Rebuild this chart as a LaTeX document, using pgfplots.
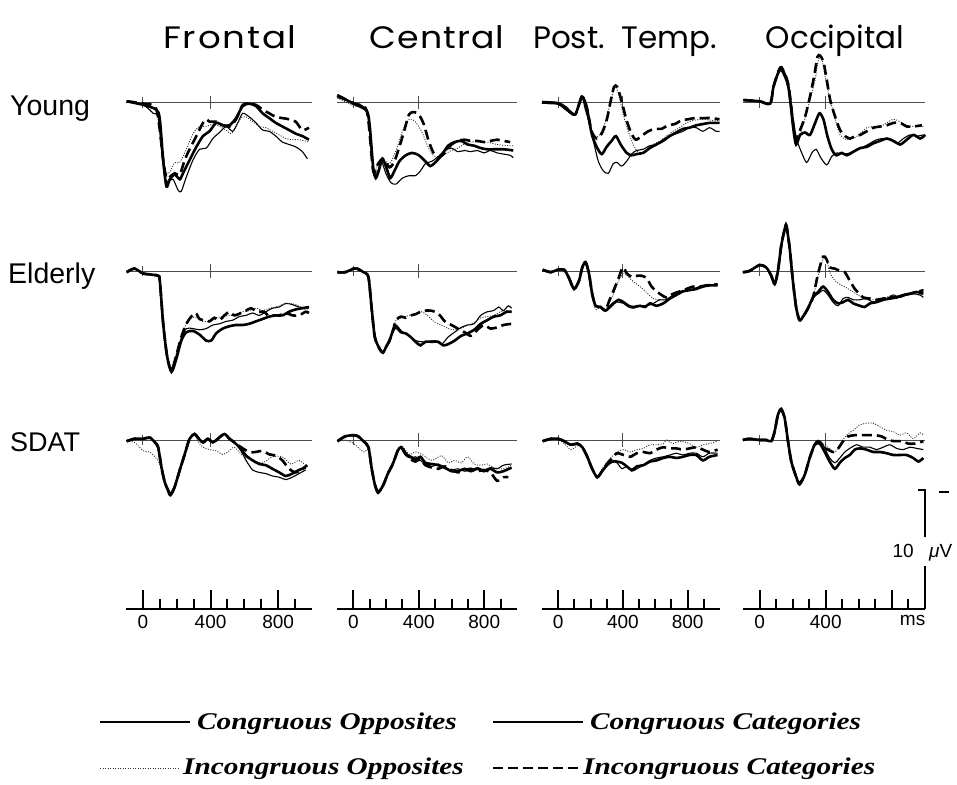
\documentclass[border=0pt]{standalone}
\usepackage{pgfplots}
\pgfplotsset{compat=1.18}
\usepackage{graphicx}
\usepackage{fontspec}
\setmainfont{Liberation Sans}
\newfontfamily\titlefont{Poppins}
\newfontfamily\titlefontA{Poppins}[LetterSpace=5]
\newfontfamily\titlefontB{Poppins}[LetterSpace=3]
\newfontfamily\legfont{Liberation Serif}

\pgfplotsset{
  panel/.style={scale only axis, hide axis, xmin=-100, xmax=1000, ymin=-5, ymax=9, y dir=reverse, height=168pt, clip=false, anchor=north west},
  base/.style={black!70, line width=0.9pt, no markers},
  co/.style={black, line width=1.1pt, no markers, smooth, tension=0.45},
  cc/.style={black, line width=2.6pt, no markers, smooth, tension=0.45},
  io/.style={black!80, line width=0.9pt, dash pattern=on 1pt off 1.5pt, no markers, smooth, tension=0.45},
  ic/.style={black, line width=2.6pt, dash pattern=on 10pt off 5pt, no markers, smooth, tension=0.45},
  taxis/.style={scale only axis, anchor=south west, xmin=-100, xmax=1000, ymin=0, ymax=1, height=10pt, clip=false,
    axis x line=bottom, axis y line=none, x axis line style={-, line width=2.2pt},
    tick align=inside, xtick={0,400,800}, minor xtick={100,200,300,500,600,700,900},
    major tick length=19pt, minor tick length=10pt, tick style={black, line width=2pt},
    xticklabel style={font=\fontsize{19}{19}\selectfont, yshift=-3pt},
    /pgf/number format/assume math mode=true, xticklabels={0,400,800}},
}
\newcommand\baseln{%
  \addplot[base] coordinates {(-100,0)(1000,0)};
  \addplot[base] coordinates {(0,-0.45)(0,0.45)};
  \addplot[base] coordinates {(400,-0.55)(400,0.55)};}
\newcommand\legtext[1]{\scalebox{1.22}[1]{\legfont\bfseries\itshape\fontsize{24}{24}\selectfont #1}}

\begin{document}
\begin{tikzpicture}[x=1pt,y=1pt]
\useasboundingbox (0,0) rectangle (957,784);

% column titles
\node[anchor=base] at (230,735) {\scalebox{1.15}[1]{\titlefontA\fontsize{31}{31}\selectfont Frontal}};
\node[anchor=base] at (437,735) {\scalebox{1.12}[1]{\titlefontB\fontsize{31}{31}\selectfont Central}};
\node[anchor=base, font=\titlefont\fontsize{31}{31}\selectfont] at (625,735) {Post.\ \ Temp.};
\node[anchor=base, font=\titlefont\fontsize{31}{31}\selectfont] at (835,735) {Occipital};
% row labels
\node[anchor=base west, inner sep=0, font=\fontsize{28.5}{28.5}\selectfont] at (10,668) {Young};
\node[anchor=base west, inner sep=0, font=\fontsize{28.5}{28.5}\selectfont] at (8,500) {Elderly};
\node[anchor=base west, inner sep=0, font=\fontsize{27}{27}\selectfont] at (10,332) {SDAT};

%================ YOUNG ================
\begin{axis}[panel, width=186pt, at={(126pt,741.5pt)}]
\baseln
\addplot[co] coordinates {(-96,-0.1)(2,0.2)(61,0.9)(90,1.2)(110,4.0)(129,6.2)(149,6.6)(178,6.4)(208,7.3)(227,7.4)(257,6.2)(296,4.8)(335,3.9)(375,3.8)(414,3.0)(453,2.5)(492,2.0)(531,2.4)(561,1.7)(590,0.9)(629,1.2)(669,1.7)(708,2.3)(747,2.4)(786,2.8)(825,3.3)(865,3.5)(904,3.7)(943,4.1)(973,4.7)};
\addplot[io] coordinates {(-96,-0.1)(2,0.2)(80,0.8)(120,4.8)(139,5.9)(159,5.8)(188,5.0)(218,5.0)(257,3.9)(296,2.6)(335,2.0)(375,2.0)(414,1.8)(453,2.0)(492,2.3)(522,2.6)(551,2.0)(580,1.3)(610,1.2)(649,1.6)(688,2.0)(727,2.1)(767,2.4)(806,2.7)(845,3.0)(884,3.1)(924,3.1)(982,3.3)};
\addplot[ic] coordinates {(-96,-0.1)(2,0.1)(80,0.6)(120,4.8)(139,6.3)(159,6.2)(188,5.9)(218,6.0)(247,4.8)(276,3.9)(316,2.8)(355,1.7)(375,1.4)(394,1.6)(433,1.6)(473,1.9)(512,2.0)(551,1.4)(590,0.2)(629,0.1)(669,0.2)(708,0.6)(747,0.9)(786,1.2)(825,1.3)(865,1.4)(904,1.6)(943,2.3)(982,2.1)};
\addplot[cc] coordinates {(-96,-0.1)(2,0.2)(80,0.6)(100,1.4)(120,4.8)(139,7.0)(159,6.4)(188,6.0)(218,6.4)(237,5.9)(276,4.8)(316,3.7)(355,2.8)(394,2.4)(433,1.7)(473,1.9)(512,1.9)(551,1.3)(590,0.3)(629,0.1)(669,0.3)(708,0.9)(747,1.3)(786,1.7)(825,2.0)(865,2.3)(904,2.6)(943,2.8)(982,3.1)};
\end{axis}

\begin{axis}[panel, width=180pt, at={(337pt,741.5pt)}]
\baseln
\addplot[co] coordinates {(-98,-0.4)(2,0)(82,0.7)(111,4.3)(131,6.0)(151,5.7)(171,4.9)(201,6.0)(231,6.7)(261,6.8)(300,6.3)(340,6.1)(380,6.1)(410,5.7)(440,5.1)(480,4.9)(519,4.5)(559,4.0)(599,3.8)(639,4.1)(679,4.0)(718,4.1)(758,4.0)(798,4.2)(838,4.0)(878,4.2)(918,4.3)(958,4.4)(977,4.6)};
\addplot[io] coordinates {(-98,-0.4)(2,0.3)(82,0.7)(121,5.7)(151,5.1)(181,4.7)(221,5.1)(261,4.0)(300,2.4)(330,1.5)(360,1.4)(390,1.8)(420,2.5)(450,3.5)(480,4.3)(519,4.6)(559,4.3)(599,4.0)(639,3.8)(698,3.3)(758,3.3)(818,3.3)(878,3.5)(938,3.6)(977,3.6)};
\addplot[ic] coordinates {(-98,-0.6)(2,0.1)(82,0.7)(121,5.7)(151,5.1)(181,4.7)(221,5.4)(251,4.9)(281,3.7)(310,2.4)(340,1.0)(370,0.8)(400,1.0)(430,1.8)(460,3.2)(490,4.2)(519,4.6)(559,4.2)(599,3.5)(639,3.2)(679,3.1)(718,3.2)(758,3.2)(798,3.3)(838,3.2)(878,3.1)(918,3.2)(958,3.3)};
\addplot[cc] coordinates {(-98,-0.6)(2,0.1)(82,0.7)(101,2.1)(121,5.4)(137,6.3)(157,5.6)(177,4.7)(201,5.4)(225,6.3)(251,5.7)(281,4.9)(320,4.4)(360,4.2)(400,4.4)(440,4.9)(470,5.3)(500,5.0)(539,4.4)(579,3.6)(619,3.3)(659,3.2)(698,3.5)(738,3.6)(778,3.8)(818,3.9)(858,3.9)(918,3.9)(977,4.0)};
\end{axis}

\begin{axis}[panel, width=178pt, at={(542pt,741.5pt)}]
\baseln
\addplot[co] coordinates {(-100,-0.1)(0,0)(53,0.4)(105,1.0)(146,-0.4)(166,0.5)(187,1.5)(217,3.2)(248,4.9)(279,5.7)(310,5.9)(340,5.1)(365,5.0)(392,5.3)(423,4.9)(453,4.3)(484,4.0)(525,3.9)(566,3.6)(607,3.5)(648,3.1)(689,2.8)(730,2.6)(771,2.4)(812,2.1)(853,2.1)(894,2.4)(935,2.1)(976,2.4)(997,2.4)};
\addplot[io] coordinates {(-100,-0.1)(0,0)(53,0.4)(105,1.0)(146,-0.4)(176,0.4)(207,2.4)(238,2.9)(269,2.4)(299,1.3)(330,-0.4)(351,-1.3)(371,-0.8)(402,1.0)(433,2.4)(464,3.5)(484,4.0)(515,4.2)(546,3.9)(587,3.5)(628,3.2)(669,2.8)(710,2.4)(751,2.1)(792,1.7)(833,1.5)(894,1.4)(956,1.5)(997,1.5)};
\addplot[ic] coordinates {(-100,0)(0,0.1)(53,0.5)(105,1.0)(146,-0.4)(176,0.4)(207,2.4)(238,3.0)(269,2.6)(299,1.5)(324,-0.1)(345,-1.3)(365,-1.3)(392,-0.1)(423,1.5)(453,2.6)(480,3.1)(515,2.8)(556,2.4)(597,2.2)(638,2.2)(679,1.9)(720,1.8)(761,1.5)(802,1.4)(843,1.3)(894,1.3)(946,1.3)(997,1.4)};
\addplot[cc] coordinates {(-100,0)(0,0.1)(53,0.6)(105,1.0)(146,-0.5)(176,0.4)(207,2.6)(238,3.7)(269,4.3)(299,3.7)(330,3.2)(357,2.8)(386,3.5)(423,4.2)(453,4.4)(484,4.3)(525,4.2)(566,3.8)(607,3.5)(648,3.2)(689,2.8)(730,2.5)(771,2.2)(812,2.1)(853,1.9)(894,1.8)(935,1.7)(997,1.7)};
\end{axis}

\begin{axis}[panel, width=182pt, at={(743pt,741.5pt)}]
\baseln
\addplot[co] coordinates {(-98,-0.2)(0,-0.1)(64,0.1)(84,-1.3)(114,-2.7)(134,-3.0)(174,-1.6)(205,1.5)(225,3.1)(255,4.2)(285,5.0)(316,4.2)(342,3.9)(370,4.6)(406,5.2)(436,4.5)(467,4.2)(507,4.3)(547,4.2)(588,3.9)(628,3.7)(668,3.4)(709,3.1)(749,3.0)(789,3.1)(830,3.4)(870,3.0)(910,2.7)(951,2.8)(991,2.7)};
\addplot[io] coordinates {(-98,-0.2)(0,-0.1)(64,0.1)(84,-1.3)(114,-2.6)(134,-2.9)(174,-1.5)(205,2.0)(221,3.1)(245,2.6)(275,1.3)(305,-0.2)(336,-1.9)(356,-3.6)(376,-3.7)(396,-2.2)(427,-0.2)(457,1.4)(487,2.7)(527,3.1)(568,3.0)(608,2.6)(648,2.1)(688,2.0)(729,2.0)(769,1.7)(809,1.4)(850,1.6)(890,1.9)(930,2.0)(991,2.0)};
\addplot[ic] coordinates {(-98,-0.2)(0,-0.1)(64,0.1)(84,-1.3)(114,-2.6)(134,-2.9)(174,-1.5)(205,2.0)(221,3.1)(245,2.3)(275,1.2)(305,-0.5)(330,-2.2)(350,-3.8)(366,-3.9)(386,-3.4)(406,-1.9)(427,-0.2)(457,1.2)(487,2.3)(517,2.8)(547,3.0)(578,2.8)(608,2.7)(648,2.4)(688,2.1)(729,2.0)(769,1.9)(809,1.7)(850,1.7)(890,2.0)(930,2.0)(981,1.9)};
\addplot[cc] coordinates {(-98,-0.2)(0,-0.1)(64,0.1)(84,-1.3)(114,-2.5)(134,-2.7)(174,-1.3)(205,2.3)(221,3.5)(245,2.7)(275,2.5)(305,2.7)(336,1.7)(362,0.9)(386,1.4)(410,2.8)(436,3.9)(463,4.4)(497,4.2)(527,4.4)(568,4.1)(608,3.8)(648,3.7)(688,3.4)(729,3.2)(769,3.0)(809,3.2)(850,3.5)(890,3.1)(930,2.7)(971,3.0)(1001,2.7)};
\end{axis}

%================ ELDERLY ================
\begin{axis}[panel, width=186pt, at={(126pt,573pt)}]
\baseln
\addplot[co] coordinates {(-96,0.1)(-50,-0.2)(0,0.2)(50,0.3)(90,0.4)(100,0.8)(120,4.4)(143,7.1)(169,8.1)(198,7.0)(227,5.6)(257,4.8)(296,4.8)(335,4.9)(374,4.8)(414,4.5)(453,4.4)(492,4.2)(531,4.1)(570,3.8)(610,3.7)(649,3.5)(688,3.7)(727,3.4)(766,3.1)(806,3.0)(845,2.7)(884,2.8)(923,3.0)(982,3.1)};
\addplot[io] coordinates {(-96,0.1)(-50,-0.2)(0,0.2)(50,0.3)(90,0.4)(100,0.8)(120,4.4)(143,7.1)(169,8.1)(198,6.9)(227,5.5)(257,4.4)(286,3.9)(316,3.9)(355,4.2)(394,4.2)(433,3.9)(472,3.8)(512,3.7)(551,3.7)(590,3.4)(629,3.3)(668,3.1)(708,3.3)(747,3.1)(786,3.0)(825,2.8)(864,2.7)(904,2.8)(943,3.1)(982,3.3)};
\addplot[ic] coordinates {(-96,0.1)(-50,-0.2)(0,0.2)(50,0.3)(90,0.4)(100,0.8)(120,4.4)(143,7.1)(169,8.3)(198,7.0)(227,5.5)(257,4.4)(286,3.8)(312,3.5)(335,4.0)(365,4.1)(394,4.2)(423,3.9)(453,4.1)(482,3.7)(512,3.4)(541,3.7)(580,3.5)(610,3.3)(639,3.1)(678,3.4)(717,3.4)(747,3.8)(776,3.7)(806,3.7)(845,3.5)(884,3.7)(923,3.7)(962,3.4)(982,3.5)};
\addplot[cc] coordinates {(-96,0.1)(-50,-0.2)(0,0.2)(50,0.3)(90,0.4)(100,0.8)(120,4.4)(143,7.1)(169,8.4)(198,7.3)(227,5.8)(257,5.1)(296,5.0)(335,5.3)(374,5.8)(404,5.8)(433,5.2)(472,4.8)(512,4.6)(551,4.5)(590,4.5)(629,4.4)(668,4.2)(708,4.0)(747,3.8)(786,3.7)(825,3.7)(864,3.4)(904,3.2)(943,3.1)(982,3.0)};
\end{axis}

\begin{axis}[panel, width=180pt, at={(337pt,573pt)}]
\baseln
\addplot[co] coordinates {(-97,0.1)(-50,0.1)(2,-0.2)(22,-0.2)(62,0.1)(92,0.5)(111,3.0)(131,5.5)(161,6.5)(181,6.8)(201,6.3)(221,5.8)(241,5.0)(261,4.5)(300,5.1)(340,5.4)(380,5.8)(420,5.9)(460,5.9)(499,5.8)(539,6.1)(579,5.5)(619,5.1)(659,4.7)(698,4.5)(738,4.4)(778,3.7)(818,3.4)(858,3.3)(888,3.0)(917,3.3)(947,2.9)(967,3.1)};
\addplot[io] coordinates {(-97,0.1)(-50,0.1)(2,-0.2)(22,-0.2)(62,0.1)(92,0.5)(111,3.0)(131,5.5)(161,6.5)(181,6.8)(201,6.3)(221,5.8)(241,5.0)(261,4.1)(300,3.9)(340,3.7)(380,3.6)(420,3.4)(460,3.8)(499,4.3)(539,4.5)(579,4.8)(619,4.9)(659,4.8)(698,4.5)(738,4.3)(778,3.9)(818,3.8)(858,3.7)(897,3.4)(937,3.3)(967,3.4)};
\addplot[ic] coordinates {(-97,0.1)(-50,0.1)(2,-0.2)(22,-0.2)(62,0.1)(92,0.5)(111,3.0)(131,5.5)(161,6.5)(181,6.8)(201,6.3)(221,5.8)(241,5.0)(261,4.1)(291,3.8)(320,3.9)(350,3.7)(380,3.6)(410,3.4)(440,3.3)(470,3.3)(499,3.4)(529,3.7)(559,4.2)(599,4.5)(639,4.8)(679,5.1)(718,5.4)(758,4.9)(798,4.5)(838,4.8)(878,4.7)(917,4.5)(967,4.4)};
\addplot[cc] coordinates {(-97,0.1)(-50,0.1)(2,-0.2)(22,-0.2)(62,0.1)(92,0.5)(111,3.0)(131,5.5)(161,6.5)(181,6.8)(201,6.3)(221,5.8)(241,5.0)(261,4.7)(291,5.1)(320,5.2)(350,5.5)(380,5.9)(410,6.2)(440,5.9)(480,5.9)(519,5.9)(549,6.2)(579,6.1)(619,5.8)(659,5.4)(698,5.2)(738,4.9)(778,4.4)(818,4.1)(858,3.8)(897,3.7)(937,3.4)(967,3.4)};
\end{axis}

\begin{axis}[panel, width=178pt, at={(542pt,573pt)}]
\baseln
\addplot[co] coordinates {(-96,-0.1)(-45,0.1)(-4,-0.1)(37,-0.1)(67,0.6)(98,1.5)(129,0.8)(149,-0.3)(169,-0.75)(190,0.2)(210,1.9)(231,2.9)(261,3.0)(292,3.3)(312,3.0)(343,2.6)(373,2.6)(404,2.7)(435,3.0)(465,3.1)(506,2.9)(547,2.9)(588,2.7)(628,2.4)(669,2.4)(710,2.0)(751,1.7)(792,1.6)(832,1.5)(873,1.3)(914,1.2)(985,1.1)};
\addplot[io] coordinates {(-96,-0.1)(-45,0.1)(-4,-0.1)(37,-0.1)(67,0.6)(98,1.6)(129,0.8)(149,-0.3)(169,-0.75)(190,0.2)(210,2.0)(231,3.2)(261,3.0)(292,3.3)(312,2.6)(343,1.9)(373,0.8)(404,0.2)(435,0.5)(465,0.9)(506,1.3)(547,1.8)(588,2.3)(628,2.4)(669,2.3)(710,2.0)(751,1.9)(792,1.6)(853,1.5)(914,1.2)(985,1.2)};
\addplot[ic] coordinates {(-96,-0.1)(-45,0.1)(-4,-0.1)(37,-0.1)(67,0.6)(98,1.5)(129,0.8)(149,-0.3)(169,-0.75)(190,0.2)(210,1.9)(231,2.9)(261,3.0)(292,3.3)(312,2.6)(343,1.6)(373,0.6)(400,-0.3)(424,0.2)(455,0.5)(486,0.4)(516,0.4)(547,0.6)(577,1.3)(608,1.7)(639,2.0)(669,2.2)(710,1.9)(751,1.7)(792,1.5)(832,1.3)(873,1.3)(914,1.2)(985,1.1)};
\addplot[cc] coordinates {(-96,-0.1)(-45,0.1)(-4,-0.1)(37,-0.1)(67,0.6)(98,1.5)(129,0.8)(149,-0.3)(169,-0.75)(190,0.2)(210,1.9)(231,2.9)(261,3.0)(292,3.3)(312,3.1)(343,2.7)(373,2.4)(404,2.6)(435,2.9)(465,3.0)(506,2.9)(537,3.0)(567,2.7)(608,2.9)(649,2.7)(690,2.3)(730,2.0)(771,1.7)(812,1.6)(853,1.5)(894,1.3)(934,1.2)(985,1.2)};
\end{axis}

\begin{axis}[panel, width=182pt, at={(743pt,573pt)}]
\baseln
\addplot[co] coordinates {(-101,0.1)(-61,0)(0,-0.5)(40,-0.3)(71,0.4)(91,1.1)(111,0)(131,-2.1)(152,-3.5)(162,-3.8)(182,-1.9)(202,0.9)(222,3.1)(242,4.1)(263,3.8)(293,3.1)(323,2.2)(354,1.9)(384,1.6)(414,2.0)(444,2.6)(475,2.9)(505,2.3)(535,2.2)(566,2.4)(606,2.4)(646,2.3)(687,2.6)(727,2.4)(768,2.3)(808,2.0)(848,2.2)(889,2.0)(929,1.9)(970,2.0)(990,2.2)};
\addplot[io] coordinates {(-101,0.1)(-61,0)(0,-0.5)(40,-0.3)(71,0.4)(91,1.1)(111,0)(131,-2.1)(152,-3.5)(162,-3.8)(182,-1.9)(202,0.9)(222,3.1)(242,4.1)(263,3.8)(293,3.1)(323,2.2)(354,0.4)(384,-1.0)(404,-1.0)(424,0.1)(455,0.8)(485,1.1)(525,1.4)(566,1.75)(606,2.1)(646,2.4)(687,2.4)(727,2.3)(768,2.2)(808,2.0)(848,2.2)(889,2.0)(929,1.9)(970,2.0)(990,1.5)};
\addplot[ic] coordinates {(-101,0.1)(-61,0)(0,-0.5)(40,-0.3)(71,0.4)(91,1.1)(111,0)(131,-2.1)(152,-3.5)(162,-3.8)(182,-1.9)(202,0.9)(222,3.1)(242,4.1)(263,3.8)(293,3.1)(323,2.2)(354,0.2)(384,-1.2)(404,-1.0)(424,-0.3)(455,-0.2)(485,0)(515,0.1)(545,0.8)(576,1.5)(596,1.8)(626,2.2)(667,2.3)(707,2.4)(747,2.3)(788,2.2)(828,2.2)(869,2.0)(909,1.9)(949,1.75)(990,1.6)};
\addplot[cc] coordinates {(-101,0.1)(-61,0)(0,-0.5)(40,-0.3)(71,0.4)(91,1.1)(111,0)(131,-2.1)(152,-3.5)(162,-3.8)(182,-1.9)(202,0.9)(222,3.1)(242,4.1)(263,3.8)(293,3.1)(323,2.2)(354,1.75)(384,1.3)(414,1.75)(444,2.4)(475,2.7)(505,2.6)(535,2.4)(566,2.7)(606,2.9)(636,3.0)(667,2.7)(707,2.6)(747,2.4)(788,2.3)(828,2.2)(869,2.0)(909,1.9)(949,1.75)(990,1.9)};
\end{axis}

%================ SDAT ================
\begin{axis}[panel, width=186pt, at={(126pt,404pt)}]
\baseln
\addplot[co] coordinates {(-96,0.1)(-50,-0.1)(2,-0.1)(41,-0.2)(71,0.2)(90,0.6)(110,2.3)(129,3.5)(149,4.1)(163,4.4)(188,3.9)(218,2.5)(247,1.2)(276,-0.1)(306,-0.5)(325,-0.2)(355,0.2)(384,-0.1)(414,0.2)(443,-0.1)(482,-0.5)(512,-0.1)(541,0.2)(580,0.9)(610,1.7)(649,2.5)(688,2.7)(727,2.8)(766,3.0)(806,3.1)(845,3.3)(884,3.1)(923,2.8)(962,2.5)};
\addplot[io] coordinates {(-96,0.1)(-50,0.2)(2,0.9)(41,1.0)(71,1.4)(100,2.0)(129,3.5)(149,4.1)(163,4.4)(188,3.8)(218,2.4)(247,1.1)(276,-0.1)(306,-0.4)(325,0.1)(355,0.6)(394,0.8)(433,0.9)(472,1.2)(512,0.9)(541,0.6)(590,1.3)(649,1.7)(708,1.9)(766,1.4)(825,1.4)(874,2.0)(923,1.7)(962,2.1)};
\addplot[ic] coordinates {(-96,0.1)(-50,-0.1)(2,-0.1)(41,-0.2)(71,0.2)(90,0.6)(110,2.3)(129,3.5)(149,4.2)(163,4.6)(188,3.9)(218,2.5)(247,1.2)(276,-0.1)(306,-0.5)(325,-0.2)(355,0.2)(384,-0.1)(414,0.2)(443,-0.1)(482,-0.5)(512,-0.1)(541,0.2)(580,0.6)(629,1.0)(668,1.0)(708,0.9)(747,1.2)(786,1.3)(825,1.7)(864,2.4)(904,2.7)(943,2.4)(972,2.1)};
\addplot[cc] coordinates {(-96,0.1)(-50,-0.1)(2,-0.1)(41,-0.2)(71,0.2)(90,0.6)(110,2.3)(129,3.5)(149,4.2)(163,4.6)(188,3.9)(218,2.5)(247,1.2)(276,-0.1)(306,-0.5)(325,-0.2)(355,0.2)(384,-0.1)(414,0.2)(443,-0.1)(482,-0.5)(512,-0.1)(541,0.2)(580,0.75)(610,1.3)(649,1.7)(688,2.0)(727,2.1)(766,2.4)(806,2.7)(845,3.0)(884,2.8)(923,2.5)(962,2.3)};
\end{axis}

\begin{axis}[panel, width=180pt, at={(337pt,404pt)}]
\baseln
\addplot[co] coordinates {(-97,0.1)(-50,-0.3)(2,-0.4)(30,-0.3)(62,0.1)(92,0.6)(111,2.3)(131,3.7)(151,4.3)(181,3.8)(211,2.8)(241,2.0)(271,0.9)(291,0.6)(320,1.3)(350,1.5)(380,1.4)(410,1.7)(440,2.0)(480,2.2)(519,2.0)(559,2.4)(599,2.5)(639,2.4)(679,2.6)(718,2.5)(758,2.3)(798,2.5)(838,2.3)(878,2.4)(917,2.1)(967,2.0)};
\addplot[io] coordinates {(-97,0.1)(-50,0)(2,0.3)(62,1.0)(92,0.8)(111,2.3)(131,3.6)(151,4.2)(181,3.7)(211,2.7)(241,1.9)(291,0.5)(340,1.2)(380,1.0)(420,1.2)(480,1.7)(539,1.3)(579,1.9)(619,1.7)(659,1.9)(698,1.4)(738,2.0)(778,2.1)(818,2.0)(858,2.3)(917,2.4)(967,2.1)};
\addplot[ic] coordinates {(-97,0.1)(-50,-0.3)(2,-0.4)(30,-0.3)(62,0.1)(92,0.6)(111,2.3)(131,3.7)(151,4.3)(181,3.8)(211,2.8)(241,2.0)(271,0.9)(291,0.6)(320,1.1)(350,1.6)(380,1.8)(410,1.6)(440,2.1)(480,2.3)(519,2.4)(559,2.2)(599,2.5)(639,2.7)(679,2.5)(718,2.4)(758,2.6)(798,2.5)(838,2.7)(878,3.4)(917,3.1)(947,3.1)};
\addplot[cc] coordinates {(-97,0.1)(-50,-0.3)(2,-0.4)(30,-0.3)(62,0.1)(92,0.6)(111,2.3)(131,3.7)(151,4.4)(181,3.8)(211,2.8)(241,2.0)(271,0.9)(291,0.6)(320,1.2)(350,1.4)(380,1.6)(410,1.4)(440,1.9)(480,2.0)(519,2.1)(559,2.3)(599,2.6)(639,2.6)(679,2.4)(718,2.6)(758,2.4)(798,2.6)(838,2.4)(878,2.7)(917,2.6)(967,2.3)};
\end{axis}

\begin{axis}[panel, width=178pt, at={(542pt,404pt)}]
\baseln
\addplot[co] coordinates {(-96,0.1)(-45,-0.1)(0,-0.1)(37,0.1)(78,0.4)(118,0.3)(149,0.6)(180,1.4)(210,2.4)(241,3.1)(271,2.6)(302,2.1)(333,1.8)(363,1.9)(394,2.4)(424,2.2)(455,2.6)(486,2.4)(526,2.1)(567,1.7)(608,1.5)(649,1.4)(690,1.25)(730,1.1)(771,1.25)(812,1.1)(853,1.1)(894,1.4)(934,1.1)(985,1.1)};
\addplot[io] coordinates {(-96,0.1)(-45,-0.1)(0,-0.1)(37,0.3)(78,0.8)(118,0.5)(149,0.6)(180,1.4)(210,2.4)(241,3.1)(271,2.4)(302,1.8)(333,1.4)(363,1.0)(404,0.8)(445,1.0)(486,0.8)(526,0.7)(567,0.4)(608,0.4)(649,0.3)(669,0)(710,0.3)(751,0.1)(812,0.3)(853,0.6)(894,0.4)(934,0.3)(985,0.1)};
\addplot[ic] coordinates {(-96,0.1)(-45,-0.1)(0,-0.1)(37,0.1)(78,0.4)(118,0.3)(149,0.6)(180,1.4)(210,2.4)(241,3.1)(271,2.6)(302,2.0)(333,1.5)(363,1.1)(404,1.25)(445,1.4)(486,1.1)(526,1.0)(567,1.1)(608,0.8)(649,0.6)(690,0.7)(730,0.7)(771,0.8)(812,0.7)(853,0.6)(894,0.8)(934,1.0)(985,0.8)};
\addplot[cc] coordinates {(-96,0.1)(-45,-0.1)(0,-0.1)(37,0.1)(78,0.4)(118,0.3)(149,0.6)(180,1.4)(210,2.4)(241,3.1)(271,2.6)(302,2.1)(333,1.8)(363,1.8)(394,1.9)(424,2.2)(455,2.5)(486,2.2)(526,2.1)(567,1.8)(608,1.7)(649,1.5)(690,1.4)(730,1.5)(771,1.4)(812,1.25)(853,1.25)(894,1.7)(934,1.4)(985,1.25)};
\end{axis}

\begin{axis}[panel, width=182pt, at={(743pt,404pt)}]
\baseln
\addplot[co] coordinates {(-101,0)(-61,-0.1)(0,0)(40,0)(71,0.1)(91,-0.7)(111,-2.1)(131,-2.5)(152,-1.8)(172,0.1)(192,1.8)(222,3.1)(242,3.6)(273,2.9)(303,1.5)(333,0.4)(364,0.1)(384,0.4)(424,1.5)(455,1.9)(485,1.5)(515,1.0)(545,0.7)(586,0.4)(626,0.6)(667,0.6)(707,0.8)(747,0.6)(788,0.4)(828,0.7)(869,0.8)(909,0.6)(949,0.7)(990,0.8)};
\addplot[io] coordinates {(-101,0)(-61,-0.1)(0,0)(40,0)(71,0.1)(91,-0.7)(111,-2.1)(131,-2.5)(152,-1.8)(172,0.1)(192,1.8)(222,3.1)(242,3.6)(273,2.9)(303,1.5)(333,0.4)(354,0)(384,0.3)(424,0.7)(455,1.0)(485,0.4)(525,-0.4)(566,-0.8)(606,-1.25)(646,-1.4)(687,-1.4)(727,-1.1)(768,-0.8)(808,-0.7)(848,-0.4)(889,-0.6)(929,-0.1)(970,-0.6)(990,-0.4)};
\addplot[ic] coordinates {(-101,0)(-61,-0.1)(0,0)(40,0)(71,0.1)(91,-0.7)(111,-2.1)(131,-2.5)(152,-1.8)(172,0.1)(192,1.8)(222,3.1)(242,3.6)(273,2.9)(303,1.5)(333,0.4)(354,0.1)(384,0.6)(414,0.8)(444,1.0)(475,0.7)(505,0.1)(535,-0.3)(576,-0.4)(616,-0.4)(657,-0.4)(697,-0.4)(737,-0.3)(778,0)(818,0.1)(859,0.1)(899,0.3)(939,0.3)(990,0.1)};
\addplot[cc] coordinates {(-101,0)(-61,-0.1)(0,0)(40,0)(71,0.1)(91,-0.7)(111,-2.1)(131,-2.6)(152,-1.8)(172,0.1)(192,1.8)(222,3.1)(242,3.7)(273,2.9)(303,1.5)(333,0.4)(364,0.3)(394,1.0)(424,1.8)(455,2.4)(485,1.9)(515,1.5)(545,1.25)(576,0.8)(606,0.7)(646,0.8)(687,1.0)(727,1.0)(768,1.1)(808,1.25)(848,1.25)(889,1.25)(929,1.5)(960,1.8)(990,1.5)};
\end{axis}

%================ TIME AXES ================
\begin{axis}[taxis, width=186pt, at={(126pt,175pt)}]
\addplot[draw=none] coordinates {(0,0)};
\end{axis}
\begin{axis}[taxis, width=180pt, at={(337pt,175pt)}]
\addplot[draw=none] coordinates {(0,0)};
\end{axis}
\begin{axis}[taxis, width=178pt, at={(542pt,175pt)}]
\addplot[draw=none] coordinates {(0,0)};
\end{axis}
\begin{axis}[taxis, width=182pt, at={(743pt,175pt)}, ymin=0, ymax=10, height=120pt,
  xticklabels={0,400,}, extra x ticks={925}, extra x tick labels={ms},
  extra x tick style={major tick length=0pt}]
\addplot[black, line width=2.2pt, no markers] coordinates {(1000,0)(1000,3.6)};
\addplot[black, line width=2.2pt, no markers] coordinates {(1000,6.0)(1000,9.9)(960,9.9)};
\addplot[black, line width=1.3pt, no markers] coordinates {(1085,9.75)(1145,9.75)};
\end{axis}
\node[anchor=base east, inner sep=0, font=\fontsize{19}{19}\selectfont] at (914,226) {10};
\node[anchor=base west, inner sep=0, font=\fontsize{19}{19}\selectfont] at (929,226) {\textit{μ}V};

%================ LEGEND ================
\draw[black, line width=1.1pt] (100,62) -- (190,62);
\node[anchor=base west, inner sep=0] at (197,55) {\legtext{Congruous Opposites}};
\draw[black, line width=2.6pt] (493,62) -- (583,62);
\node[anchor=base west, inner sep=0] at (590,55) {\legtext{Congruous Categories}};
\draw[black!80, line width=0.9pt, dash pattern=on 1pt off 1.5pt] (100,16) -- (180,16);
\node[anchor=base west, inner sep=0] at (183,10) {\legtext{Incongruous Opposites}};
\draw[black, line width=2.6pt, dash pattern=on 10pt off 5pt] (493,16) -- (578,16);
\node[anchor=base west, inner sep=0] at (583,10) {\legtext{Incongruous Categories}};
\end{tikzpicture}
\end{document}
